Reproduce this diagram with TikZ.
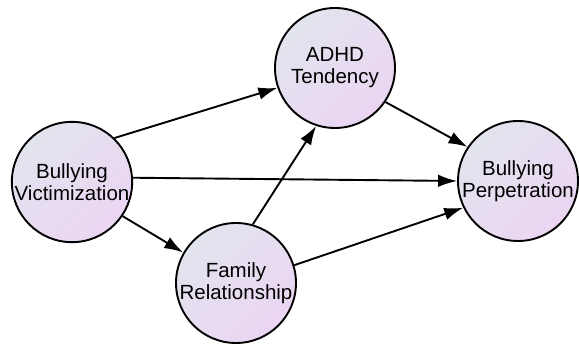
\documentclass[tikz,border=0pt]{standalone}
\usepackage{fontspec}
\setmainfont{Liberation Sans}
\usetikzlibrary{positioning,arrows.meta}
\definecolor{fadeblue}{HTML}{E2E4EE}
\definecolor{fadepurple}{HTML}{EBD5F2}

\begin{document}
\begin{tikzpicture}[on grid,
    factor/.style={circle, draw, line width=1.9pt, minimum size=120pt, inner sep=0pt,
        align=center, font=\fontsize{20.5}{22}\selectfont,
        top color=fadeblue, bottom color=fadepurple, shading angle=45},
    path/.style={line width=1.9pt, -{Latex[length=19pt,width=12.5pt]}}]
                \useasboundingbox (-72pt,-162pt) rectangle (507pt,182pt);
                \node[factor] (victim) {Bullying\\Victimization};
                \node[factor, above right=114pt and 263pt of victim] (adhd) {ADHD\\Tendency};
                \node[factor, below right=113pt and 183pt of adhd] (perp) {Bullying\\Perpetration};
                \node[factor, below right=101pt and 164pt of victim] (family) {Family\\Relationship};

                \draw[path] (victim.46) -- (adhd.199);
                \draw[path] (victim.4) -- (perp.180);
                \draw[path] (victim.-34) -- (family.150);
                \draw[path] (family.74) -- (adhd.252);
                \draw[path] (family.17) -- (perp.206);
                \draw[path] (adhd.-34) -- (perp.146);
            \end{tikzpicture}
\end{document}
